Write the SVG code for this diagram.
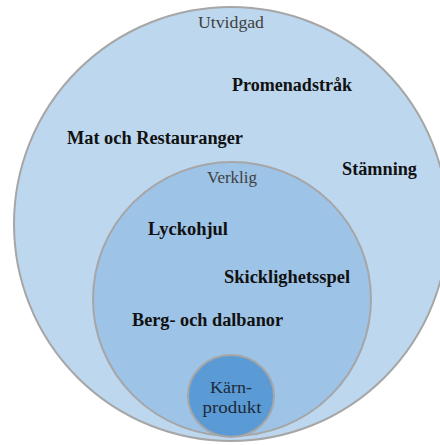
<svg xmlns="http://www.w3.org/2000/svg" width="440" height="445" viewBox="0 0 440 445">
<style>
.ring{stroke:#a6a6a6;stroke-width:2}
text{font-family:'Liberation Serif','Times New Roman','DejaVu Serif',serif}
.lbl{font-weight:bold;font-size:18px;fill:#111}
.ttl{font-size:17px;fill:#3f3f3f;text-anchor:middle}
.core{font-size:17px;fill:#1b2a3a;text-anchor:middle}
</style>
<rect width="440" height="445" fill="#ffffff"/>
<g id="utvidgad" font-family="Liberation Serif, Times New Roman, DejaVu Serif, serif">
<circle class="ring" cx="231" cy="224" r="217" fill="#bdd7ee"/>
<text class="ttl" x="231" y="28" textLength="66" lengthAdjust="spacingAndGlyphs">Utvidgad</text>
<text class="lbl" x="232" y="91" textLength="120" lengthAdjust="spacingAndGlyphs">Promenadstråk</text>
<text class="lbl" x="67" y="144" textLength="176" lengthAdjust="spacingAndGlyphs">Mat och Restauranger</text>
<text class="lbl" x="342" y="175" textLength="75" lengthAdjust="spacingAndGlyphs">Stämning</text>
</g>
<g id="verklig" font-family="Liberation Serif, Times New Roman, DejaVu Serif, serif">
<ellipse class="ring" cx="232" cy="299" rx="139" ry="137" fill="#9dc3e6"/>
<text class="ttl" x="232" y="183" textLength="50" lengthAdjust="spacingAndGlyphs">Verklig</text>
<text class="lbl" x="148" y="235" textLength="80" lengthAdjust="spacingAndGlyphs">Lyckohjul</text>
<text class="lbl" x="224" y="283" textLength="126" lengthAdjust="spacingAndGlyphs">Skicklighetsspel</text>
<text class="lbl" x="132" y="326" textLength="151" lengthAdjust="spacingAndGlyphs">Berg- och dalbanor</text>
</g>
<g id="karnprodukt" font-family="Liberation Serif, Times New Roman, DejaVu Serif, serif">
<ellipse class="ring" cx="231" cy="396" rx="43" ry="41" fill="#5b9bd5"/>
<text class="core" x="231" y="393" textLength="42" lengthAdjust="spacingAndGlyphs">Kärn-</text>
<text class="core" x="232" y="413" textLength="59" lengthAdjust="spacingAndGlyphs">produkt</text>
</g>
<g id="connectors"/>
</svg>
